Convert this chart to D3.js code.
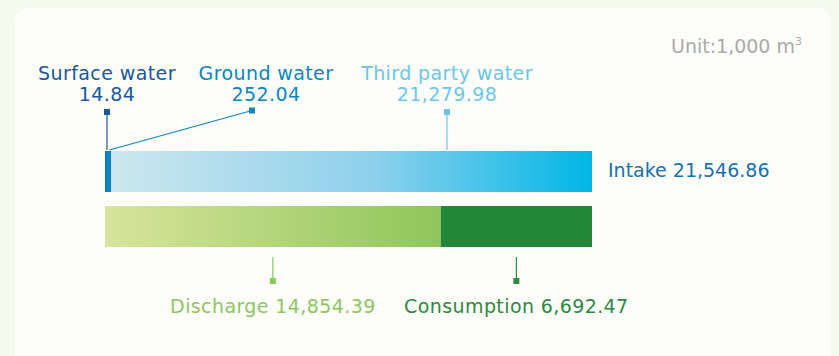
<!DOCTYPE html>
<html>
<head>
<meta charset="utf-8">
<script src="https://cdn.jsdelivr.net/npm/d3@7"></script>
<style>
  html, body { margin: 0; padding: 0; background: #f5faee; }
  svg { display: block; }
  text { font-family: "DejaVu Sans", sans-serif; }
</style>
</head>
<body>
<div id="chart"></div>
<script>
// values in 1,000 m3
var intakeNames = ['Surface water', 'Ground water', 'Third party water'],
    intakeValues = [14.84, 252.04, 21279.98],
    intakeTotal = 21546.86;

var outNames = ['Discharge', 'Consumption'],
    outValues = [14854.39, 6692.47];

var unitLabel = 'Unit:1,000 m';

var width = 839, height = 356,
    margin = {left: 105, right: 247};

var fmt = d3.format(',.2f');

var x = d3.scaleLinear()
    .domain([0, intakeTotal])
    .range([margin.left, width - margin.right]);

var intakeColors = ['#17589f', '#0b86c4', null],
    intakeText = ['#17589f', '#0b86c4', '#6cc6ec'],
    // where the labels of the top row sit (label centre x)
    intakeLabelX = [107, 266, 447];

var svg = d3.select('#chart').append('svg')
    .attr('width', width)
    .attr('height', height);

var defs = svg.append('defs');

var gBlue = defs.append('linearGradient').attr('id', 'gBlue')
    .attr('x1', '0%').attr('x2', '100%');
gBlue.append('stop').attr('offset', '0%').attr('stop-color', '#cde7ee');
gBlue.append('stop').attr('offset', '55%').attr('stop-color', '#8dd0ec');
gBlue.append('stop').attr('offset', '100%').attr('stop-color', '#00b6e6');

var gGreen = defs.append('linearGradient').attr('id', 'gGreen')
    .attr('x1', '0%').attr('x2', '100%');
gGreen.append('stop').attr('offset', '0%').attr('stop-color', '#d8e49c');
gGreen.append('stop').attr('offset', '100%').attr('stop-color', '#8fc65a');

// panel
svg.append('rect')
    .attr('x', 15).attr('y', 8)
    .attr('width', 816).attr('height', 370)
    .attr('rx', 14)
    .attr('fill', '#fdfef9');

// unit
var unit = svg.append('text')
    .attr('x', 802).attr('y', 53)
    .attr('text-anchor', 'end')
    .attr('fill', '#a9aaa8')
    .style('font-size', '19px');
unit.append('tspan').text(unitLabel);
unit.append('tspan').attr('dy', -8).style('font-size', '11px').text('3');

// ---- intake bar
var stack = [], acc = 0;
intakeValues.forEach(function(v, i) {
  stack.push({name: intakeNames[i], value: v, x0: acc, x1: acc + v, i: i});
  acc += v;
});

var barTop = 151, barH = 41;

svg.selectAll('.intake').data(stack).enter().append('rect')
    .attr('class', 'intake')
    .attr('x', function(d) { return x(d.x0); })
    .attr('y', barTop)
    .attr('width', function(d) { return Math.max(2, x(d.x1) - x(d.x0)); })
    .attr('height', barH)
    .attr('fill', function(d) { return intakeColors[d.i] || 'url(#gBlue)'; });

// leaders for the top row
var lead = svg.selectAll('.lead').data(stack).enter().append('g').attr('class', 'lead');

function tipX(d) { return d.i === 2 ? intakeLabelX[2] : (d.i === 0 ? x(d.x0) + 2 : intakeLabelX[1] - 14); }
function tipY(d) { return d.i === 1 ? 110.5 : 112; }

lead.append('line')
    .attr('x1', function(d) { return d.i === 2 ? intakeLabelX[2] : x(d.x0) + 2 + d.i * 2; })
    .attr('y1', barTop - 1)
    .attr('x2', tipX)
    .attr('y2', tipY)
    .attr('stroke', function(d) { return intakeText[d.i]; })
    .attr('stroke-width', 1.2);

lead.append('rect')
    .attr('x', function(d) { return tipX(d) - 3; })
    .attr('y', function(d) { return tipY(d) - 3; })
    .attr('width', 6).attr('height', 6)
    .attr('fill', function(d) { return intakeText[d.i]; });

lead.append('text')
    .attr('x', function(d) { return intakeLabelX[d.i]; })
    .attr('y', 80)
    .attr('text-anchor', 'middle')
    .attr('fill', function(d) { return intakeText[d.i]; })
    .style('font-size', '19px')
    .style('letter-spacing', '0.4px')
    .text(function(d) { return d.name; });

lead.append('text')
    .attr('x', function(d) { return intakeLabelX[d.i]; })
    .attr('y', 101)
    .attr('text-anchor', 'middle')
    .attr('fill', function(d) { return intakeText[d.i]; })
    .style('font-size', '19px')
    .style('letter-spacing', '0.4px')
    .text(function(d) { return fmt(d.value); });

svg.append('text')
    .attr('x', x(intakeTotal) + 16)
    .attr('y', 177)
    .attr('fill', '#1870b0')
    .style('font-size', '19px')
    .text('Intake ' + fmt(intakeTotal));

// ---- discharge / consumption bar
var outStack = [];
acc = 0;
outValues.forEach(function(v, i) {
  outStack.push({name: outNames[i], value: v, x0: acc, x1: acc + v, i: i});
  acc += v;
});

var outColors = ['url(#gGreen)', '#23873a'],
    outText = ['#8cc65e', '#2a8a3e'];

var bar2Top = 206, bar2H = 41;

svg.selectAll('.out').data(outStack).enter().append('rect')
    .attr('class', 'out')
    .attr('x', function(d) { return x(d.x0); })
    .attr('y', bar2Top)
    .attr('width', function(d) { return x(d.x1) - x(d.x0); })
    .attr('height', bar2H)
    .attr('fill', function(d) { return outColors[d.i]; });

var olead = svg.selectAll('.olead').data(outStack).enter().append('g').attr('class', 'olead');

function mid(d) { return x((d.x0 + d.x1) / 2); }

olead.append('line')
    .attr('x1', mid).attr('x2', mid)
    .attr('y1', 257).attr('y2', 281)
    .attr('stroke', function(d) { return outText[d.i]; })
    .attr('stroke-width', 1.2);

olead.append('rect')
    .attr('x', function(d) { return mid(d) - 3; })
    .attr('y', 278)
    .attr('width', 6).attr('height', 6)
    .attr('fill', function(d) { return outText[d.i]; });

olead.append('text')
    .attr('x', mid)
    .attr('y', 313)
    .attr('text-anchor', 'middle')
    .attr('fill', function(d) { return outText[d.i]; })
    .style('font-size', '19px')
    .style('letter-spacing', '0.4px')
    .text(function(d) { return d.name + ' ' + fmt(d.value); });
</script>
</body>
</html>
